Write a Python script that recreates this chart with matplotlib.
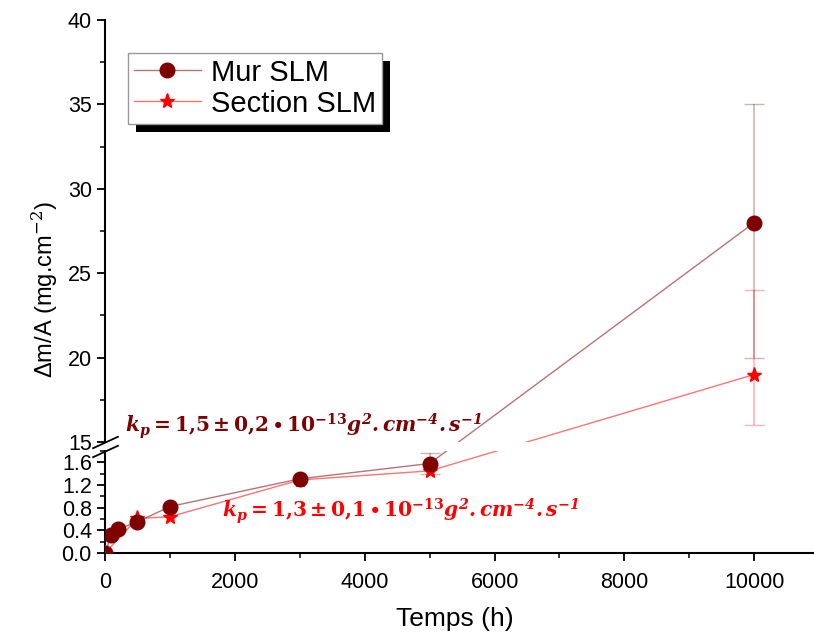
import numpy as np
import matplotlib.pyplot as plt
from matplotlib.patches import Rectangle
from matplotlib.ticker import MultipleLocator, FormatStrFormatter

plt.rcParams['font.family'] = ['Liberation Sans', 'DejaVu Sans']
plt.rcParams['mathtext.fontset'] = 'dejavuserif'

# données (temps en heures, prise de masse en mg.cm-2)
temps_mur = [0, 100, 200, 500, 1000, 3000, 5000, 10000]
mur = [0.0, 0.32, 0.42, 0.55, 0.82, 1.31, 1.58, 28.0]
mur_err_bas = [0, 0, 0, 0, 0, 0, 0.18, 8.0]
mur_err_haut = [0, 0, 0, 0, 0, 0, 0.18, 7.0]
temps_section = [0, 500, 1000, 3000, 5000, 10000]
section = [0.0, 0.61, 0.64, 1.29, 1.45, 19.0]
section_err_bas = [0, 0, 0, 0, 0, 3.0]
section_err_haut = [0, 0, 0, 0, 0, 5.0]

kp_mur = r'$\mathbfit{k_p}\mathbf{=1{,}5\pm0{,}2\bullet10^{-13}}\mathbfit{g^2.cm^{-4}.s^{-1}}$'
kp_section = r'$\mathbfit{k_p}\mathbf{=1{,}3\pm0{,}1\bullet10^{-13}}\mathbfit{g^2.cm^{-4}.s^{-1}}$'

c_mur = '#7f0000'
c_sec = '#ff0000'

fig = plt.figure(figsize=(8.14, 6.35), dpi=100)
ax_haut = fig.add_axes([0.129, 0.3039, 0.871, 0.6646])
ax_bas = fig.add_axes([0.129, 0.1291, 0.871, 0.1606])

xmax = 10920
ax_haut.set_xlim(0, xmax)
ax_bas.set_xlim(0, xmax)
ax_haut.set_ylim(15, 40)
ax_bas.set_ylim(0, 1.8)


def vers(src, dst, x, y):
    # passe un point d'un axe à l'autre en coordonnées écran (axe cassé continu)
    return dst.transData.inverted().transform(src.transData.transform((x, y)))


def trace(temps, serie, err_b, err_h, couleur, marqueur, ms, z):
    # dernier point dans l'axe du haut, les autres en bas
    xb, yb = vers(ax_haut, ax_bas, temps[-1], serie[-1])
    xh, yh = vers(ax_bas, ax_haut, temps[-2], serie[-2])
    ligne, = ax_bas.plot(temps[:-1] + [xb], serie[:-1] + [yb], color=couleur,
                         lw=1, alpha=0.55, zorder=2)
    ax_haut.plot([xh, temps[-1]], [yh, serie[-1]], color=couleur, lw=1,
                 alpha=0.55, zorder=2)
    for ax, idx in ((ax_bas, range(len(temps) - 1)), (ax_haut, [len(temps) - 1])):
        for i in idx:
            if err_b[i] or err_h[i]:
                ax.errorbar(temps[i], serie[i], yerr=[[err_b[i]], [err_h[i]]],
                            fmt='none', ecolor=couleur, elinewidth=1.2,
                            capsize=7, alpha=0.3, zorder=1)
    pts, = ax_bas.plot(temps[:-1], serie[:-1], ls='none', marker=marqueur,
                       ms=ms, color=couleur, zorder=z)
    ax_haut.plot(temps[-1:], serie[-1:], ls='none', marker=marqueur, ms=ms,
                 color=couleur, zorder=z)
    return ligne, pts


h_mur = trace(temps_mur, mur, mur_err_bas, mur_err_haut, c_mur, 'o', 10.5, 3.5)
h_sec = trace(temps_section, section, section_err_bas, section_err_haut,
              c_sec, '*', 11, 3)

# axes
for ax in (ax_haut, ax_bas):
    ax.spines['top'].set_visible(False)
    ax.spines['right'].set_visible(False)
    ax.spines['left'].set_linewidth(1.5)
    ax.tick_params(axis='both', which='major', direction='out', length=6,
                   width=1.3, labelsize=15.5)
    ax.tick_params(axis='both', which='minor', direction='out', length=3.5,
                   width=1.1)
ax_haut.spines['bottom'].set_visible(False)
ax_haut.tick_params(axis='x', which='both', bottom=False, labelbottom=False)
ax_bas.spines['bottom'].set_linewidth(1.5)

ax_haut.yaxis.set_major_locator(MultipleLocator(5))
ax_haut.yaxis.set_minor_locator(MultipleLocator(2.5))
ax_bas.yaxis.set_major_locator(MultipleLocator(0.4))
ax_bas.yaxis.set_minor_locator(MultipleLocator(0.2))
ax_bas.yaxis.set_major_formatter(FormatStrFormatter('%.1f'))
ax_bas.xaxis.set_major_locator(MultipleLocator(2000))
ax_bas.xaxis.set_minor_locator(MultipleLocator(1000))
ax_bas.tick_params(axis='x', which='major', pad=8)

# marques de coupure
kw = dict(marker=[(-1, -0.46), (1, 0.46)], markersize=19, ls='none',
          color='k', mec='k', mew=1.3, clip_on=False)
ax_haut.plot([0], [0], transform=ax_haut.transAxes, **kw)
ax_bas.plot([0], [1], transform=ax_bas.transAxes, **kw)

# textes
fig.text(45 / 814, 1 - 290 / 635, r'Δm/A (mg.cm$^{-2}$)', rotation=90,
         ha='center', va='center', fontsize=17)
fig.text(455 / 814, 1 - 619 / 635, 'Temps (h)', ha='center', va='center',
         fontsize=19)
fig.text(125 / 814, 1 - 426 / 635, kp_mur, color=c_mur, fontsize=14.5,
         ha='left', va='center')
fig.text(222 / 814, 1 - 511 / 635, kp_section, color=c_sec, fontsize=14.5,
         ha='left', va='center')

# légende avec ombre noire décalée
leg = ax_haut.legend([h_mur, h_sec], ['Mur SLM', 'Section SLM'],
                     loc='upper left', bbox_to_anchor=(128 / 814, 1 - 53 / 635),
                     bbox_transform=fig.transFigure, borderaxespad=0,
                     fontsize=21, frameon=True, fancybox=False, framealpha=1,
                     edgecolor='#999999', handlelength=2.3, handletextpad=0.35,
                     borderpad=0.2, labelspacing=0.1, handleheight=0.9)
leg.get_frame().set_linewidth(1)
fig.canvas.draw()
bb = leg.get_window_extent().transformed(fig.transFigure.inverted())
dx, dy = 8 / 814, 8 / 635
ombre = Rectangle((bb.x0 + dx, bb.y0 - dy), bb.width, bb.height,
                  transform=fig.transFigure, facecolor='k', edgecolor='none',
                  zorder=4.9, clip_on=False)
ax_haut.add_patch(ombre)

fig.savefig('out.png', dpi=100)
